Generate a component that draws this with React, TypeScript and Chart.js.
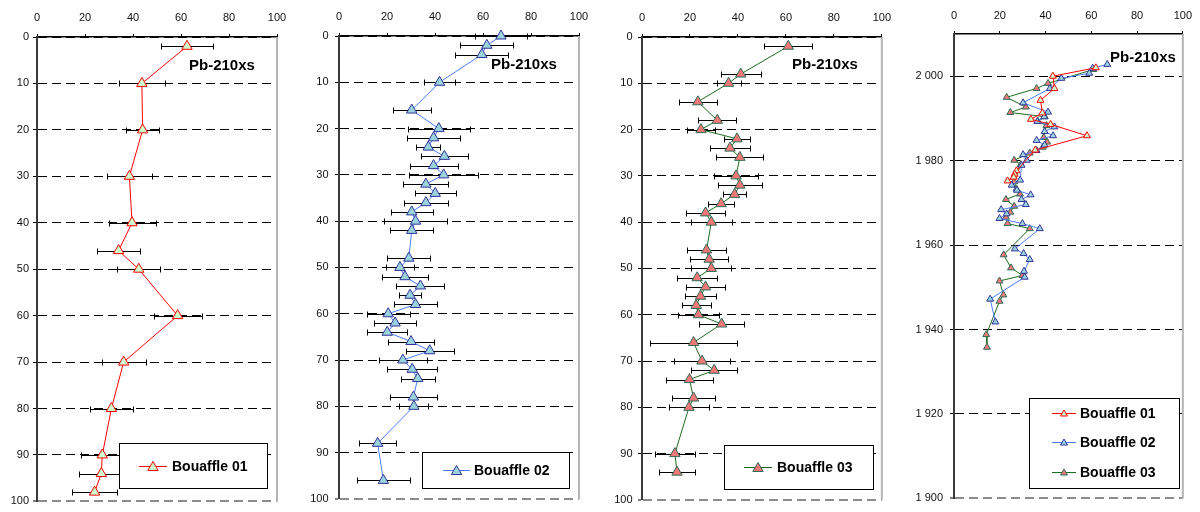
import React, { useEffect, useRef } from 'react';
import { Chart, registerables } from 'chart.js';

Chart.register(...registerables);

const FONT = '"Liberation Sans", Arial, Helvetica, sans-serif';
Chart.defaults.font.family = FONT;

// ---------- tick labels ----------
const activityTicks = [0, 20, 40, 60, 80, 100];
const depthTicks = [0, 10, 20, 30, 40, 50, 60, 70, 80, 90, 100];
const yearTicks = [1900, 1920, 1940, 1960, 1980, 2000];

// ---------- Bouaffle 01 (depth, Pb-210xs, error) ----------
const depth01 = [2, 10, 20, 30, 40, 46, 50, 60, 70, 80, 90, 94, 98];
const pb01 = [62.5, 43.7, 44, 38.5, 39.6, 34, 42.4, 58.6, 36.1, 31, 27.2, 26.8, 24];
const err01 = [11, 9.5, 7, 9.3, 9.8, 9, 9, 10, 9.2, 9, 9, 9.5, 9.3];

// ---------- Bouaffle 02 ----------
const depth02 = [0, 2, 4, 10, 16, 20, 22, 24, 26, 28, 30, 32, 34, 36, 38, 40, 42, 48, 50, 52, 54, 56, 58, 60, 62, 64, 66, 68, 70, 72, 74, 78, 80, 88, 96];
const pb02 = [67.5, 61.6, 59.5, 41.9, 30.3, 41.6, 39.4, 37.2, 43.9, 39.4, 43.6, 36.2, 40.1, 36.2, 30.3, 31.9, 30.3, 29.1, 25.4, 27.5, 33.9, 29.6, 31.9, 20.5, 23.4, 20.1, 30, 37.8, 26.6, 30.5, 32.8, 31, 31.2, 16.1, 18.5];
const err02 = [11, 11, 11, 6.5, 8, 13, 11, 5, 9.7, 10, 14.5, 9.4, 8.6, 9.3, 8.7, 13, 9, 9, 6, 9.5, 10, 4.5, 9, 9, 8.7, 8.4, 9.6, 10, 10, 10.4, 7, 9.8, 6, 7.8, 11];

// ---------- Bouaffle 03 ----------
const depth03 = [2, 8, 10, 14, 18, 20, 22, 24, 26, 30, 32, 34, 36, 38, 40, 46, 48, 50, 52, 54, 56, 58, 60, 62, 66, 70, 72, 74, 78, 80, 90, 94];
const pb03 = [61, 41.2, 36.1, 23.3, 31.4, 24.6, 39.6, 36.7, 40.8, 39.2, 40.8, 38.6, 33, 26.5, 28.9, 26.9, 28, 28.9, 23, 26.5, 24.4, 22.6, 23.5, 33.2, 21.5, 25, 30.1, 19.8, 21.5, 19.6, 13.7, 14.6];
const err03 = [10, 8.3, 5, 8, 8, 6, 5.6, 8.5, 9.8, 9, 9.2, 4.8, 5.3, 8.3, 8.5, 8.2, 8, 8.3, 8.2, 8, 6.6, 6, 8.5, 9.5, 18, 11.5, 9.5, 9.6, 9, 8.5, 8.4, 7.5];

// ---------- dated profiles (year, Pb-210xs) ----------
const year01d = [2002.0, 2000.0, 1997.1, 1994.3, 1991.3, 1989.8, 1988.6, 1985.9, 1982.5, 1977.6, 1976.8, 1976.1, 1975.2];
const pb01d = [62, 43.2, 43.9, 37.8, 38.6, 33.6, 42.2, 58.1, 35.5, 27.3, 26.5, 26.1, 23.4];

const year02d = [2002.8, 2001.9, 2000.7, 1999.5, 1997.1, 1993.7, 1991.5, 1990.4, 1989.3, 1988.0, 1986.9, 1985.9, 1984.8, 1983.7, 1982.4, 1981.4, 1980.1, 1978.9, 1975.4, 1974.2, 1973.0, 1971.9, 1970.8, 1969.6, 1968.4, 1967.4, 1966.3, 1965.1, 1963.9, 1959.1, 1958.0, 1956.6, 1953.8, 1952.4, 1947.2, 1941.8];
const pb02d = [67, 60.6, 59.1, 46.9, 41.9, 30.2, 41.1, 39.4, 36.4, 43.9, 39.6, 43.3, 36.1, 39.6, 36.1, 30.2, 31.8, 29.5, 28.9, 25.2, 27.5, 33.5, 29.5, 31.4, 20.6, 23, 19.9, 29.9, 37.5, 26.6, 30.4, 33.1, 30.6, 30.9, 15.8, 18.1];

const year03d = [2001.6, 1998.3, 1997.1, 1995.0, 1992.7, 1991.4, 1990.4, 1989.3, 1988.3, 1985.5, 1984.4, 1983.2, 1981.8, 1980.1, 1979.1, 1975.0, 1973.3, 1972.1, 1970.8, 1969.2, 1967.8, 1966.6, 1965.1, 1963.9, 1957.7, 1954.6, 1952.8, 1951.5, 1948.2, 1946.7, 1938.8, 1935.8];
const pb03d = [60.9, 41.1, 36.1, 23, 31.4, 24.6, 39.7, 36.7, 40.4, 39.2, 40.7, 38.8, 33.1, 26.3, 29.2, 26.3, 27.3, 28.8, 22.7, 26.3, 24.6, 22.7, 23.4, 33.1, 21.7, 24.9, 29.9, 19.9, 21.6, 19.9, 14.1, 14.4];

const seriesNames = ['Bouaffle 01', 'Bouaffle 02', 'Bouaffle 03'];
const titleText = 'Pb-210xs';

// ---------- styles ----------
const STYLE = [
  { line: '#ff0000', fill: '#ccffcc', border: '#ff0000' },
  { line: '#4a7dff', fill: '#99d3dc', border: '#333399' },
  { line: '#1e6b1e', fill: '#f27777', border: '#2f6b5a' },
];

function pts(xs: number[], ys: number[]) {
  return ys.map((y, i) => ({ x: xs[i], y }));
}

function triangle(ctx: CanvasRenderingContext2D, x: number, y: number, r: number) {
  let a = 0;
  ctx.beginPath();
  ctx.moveTo(x + Math.sin(a) * r, y - Math.cos(a) * r);
  a += (2 * Math.PI) / 3;
  ctx.lineTo(x + Math.sin(a) * r, y - Math.cos(a) * r);
  a += (2 * Math.PI) / 3;
  ctx.lineTo(x + Math.sin(a) * r, y - Math.cos(a) * r);
  ctx.closePath();
}

type LegendSpec = {
  box: [number, number, number, number];
  lineX: [number, number];
  textX: number;
  rows: number[];
  idx: number[];
  r: number;
};

type PanelSpec = {
  left: number;
  width: number;
  plotLeft: number;
  plotTop: number;
  padRight: number;
  padBottom: number;
  yMin: number;
  yMax: number;
  yTicks: number[];
  reverse: boolean;
  yPad: number;
  xPad: number;
  bottomValue: number;
  datasets: any[];
  legend: LegendSpec;
  title: [number, number];
  yFormat: (v: number) => string;
};

function ds(idx: number, data: { x: number; y: number }[], r: number, errs?: number[]) {
  const s = STYLE[idx];
  return {
    label: seriesNames[idx],
    data,
    showLine: true,
    borderColor: s.line,
    borderWidth: 1,
    tension: 0,
    pointStyle: 'triangle',
    pointRadius: r,
    pointHoverRadius: r,
    pointBackgroundColor: s.fill,
    pointBorderColor: s.border,
    pointBorderWidth: 1,
    clip: false,
    errorBars: errs,
  };
}

const plainFormat = (v: number) => String(v);
const yearFormat = (v: number) => String(v).replace(/\B(?=(\d{3})+(?!\d))/g, ' ');

const PANELS: PanelSpec[] = [
  {
    left: 0, width: 300, plotLeft: 37, plotTop: 37, padRight: 23, padBottom: 6,
    yMin: 0, yMax: 100, yTicks: depthTicks, reverse: true, yPad: 4, xPad: 9, bottomValue: 100,
    datasets: [ds(0, pts(pb01, depth01), 6, err01)],
    legend: { box: [119, 443, 267, 488], lineX: [139, 167], textX: 172, rows: [466], idx: [0], r: 6 },
    title: [189, 66], yFormat: plainFormat,
  },
  {
    left: 300, width: 300, plotLeft: 39, plotTop: 36, padRight: 21, padBottom: 6,
    yMin: 0, yMax: 100, yTicks: depthTicks, reverse: true, yPad: 6.5, xPad: 9, bottomValue: 100,
    datasets: [ds(1, pts(pb02, depth02), 6, err02)],
    legend: { box: [122, 452, 269, 488], lineX: [143, 170], textX: 174, rows: [470], idx: [1], r: 6 },
    title: [191, 65], yFormat: plainFormat,
  },
  {
    left: 600, width: 300, plotLeft: 42, plotTop: 37, padRight: 18, padBottom: 6,
    yMin: 0, yMax: 100, yTicks: depthTicks, reverse: true, yPad: 5.5, xPad: 9, bottomValue: 100,
    datasets: [ds(2, pts(pb03, depth03), 6, err03)],
    legend: { box: [124, 445, 273, 489], lineX: [144, 172], textX: 177, rows: [467], idx: [2], r: 6 },
    title: [192, 65], yFormat: plainFormat,
  },
  {
    left: 900, width: 300, plotLeft: 54, plotTop: 34, padRight: 14, padBottom: 6,
    yMin: 1900, yMax: 2010, yTicks: yearTicks, reverse: false, yPad: 7, xPad: 8, bottomValue: 1900,
    datasets: [
      ds(0, pts(pb01d, year01d), 4),
      ds(1, pts(pb02d, year02d), 4),
      ds(2, pts(pb03d, year03d), 4),
    ],
    legend: { box: [129, 398, 279, 488], lineX: [152, 176], textX: 180, rows: [413, 442, 472], idx: [0, 1, 2], r: 4 },
    title: [210, 58], yFormat: yearFormat,
  },
];

const errorBarPlugin = {
  id: 'errorBars',
  beforeDatasetsDraw(chart: any) {
    const { ctx } = chart;
    const xs = chart.scales.x;
    const ys = chart.scales.y;
    chart.data.datasets.forEach((d: any) => {
      if (!d.errorBars) return;
      ctx.save();
      ctx.strokeStyle = '#000';
      ctx.lineWidth = 1;
      d.data.forEach((p: any, i: number) => {
        const e = d.errorBars[i];
        const py = Math.round(ys.getPixelForValue(p.y)) + 0.5;
        const x1 = Math.round(xs.getPixelForValue(p.x - e)) + 0.5;
        const x2 = Math.round(xs.getPixelForValue(p.x + e)) + 0.5;
        ctx.beginPath();
        ctx.moveTo(x1, py);
        ctx.lineTo(x2, py);
        ctx.moveTo(x1, py - 3);
        ctx.lineTo(x1, py + 3);
        ctx.moveTo(x2, py - 3);
        ctx.lineTo(x2, py + 3);
        ctx.stroke();
      });
      ctx.restore();
    });
  },
};

function makeDecorPlugin(spec: PanelSpec) {
  return {
    id: 'panelDecor',
    afterDraw(chart: any) {
      const { ctx, chartArea } = chart;
      ctx.save();
      // right border of plot area
      ctx.strokeStyle = '#b4b4b4';
      ctx.lineWidth = 2;
      ctx.beginPath();
      ctx.moveTo(chartArea.right, chartArea.top);
      ctx.lineTo(chartArea.right, chartArea.bottom);
      ctx.stroke();

      // title
      ctx.fillStyle = '#000';
      ctx.font = `bold 15px ${FONT}`;
      ctx.textAlign = 'left';
      ctx.textBaseline = 'middle';
      ctx.fillText(titleText, spec.title[0], spec.title[1]);

      // legend
      const L = spec.legend;
      const [bx1, by1, bx2, by2] = L.box;
      ctx.fillStyle = '#ffffff';
      ctx.fillRect(bx1, by1, bx2 - bx1, by2 - by1);
      ctx.strokeStyle = '#000';
      ctx.lineWidth = 1;
      ctx.strokeRect(bx1 + 0.5, by1 + 0.5, bx2 - bx1, by2 - by1);
      L.rows.forEach((ry, k) => {
        const s = STYLE[L.idx[k]];
        ctx.strokeStyle = s.line;
        ctx.lineWidth = 1;
        ctx.beginPath();
        ctx.moveTo(L.lineX[0], ry + 0.5);
        ctx.lineTo(L.lineX[1], ry + 0.5);
        ctx.stroke();
        const mx = (L.lineX[0] + L.lineX[1]) / 2;
        triangle(ctx, mx, ry + L.r * 0.25, L.r);
        ctx.fillStyle = s.fill;
        ctx.fill();
        ctx.strokeStyle = s.border;
        ctx.stroke();
        ctx.fillStyle = '#000';
        ctx.font = `bold 14px ${FONT}`;
        ctx.textBaseline = 'middle';
        ctx.fillText(seriesNames[L.idx[k]], L.textX, ry + 1);
      });
      ctx.restore();
    },
  };
}

function Panel({ spec }: { spec: PanelSpec }) {
  const ref = useRef<HTMLCanvasElement | null>(null);
  useEffect(() => {
    if (!ref.current) return;
    const chart = new Chart(ref.current, {
      type: 'scatter',
      data: { datasets: spec.datasets },
      options: {
        responsive: false,
        animation: false,
        events: [],
        layout: { padding: { left: 0, top: 0, right: spec.padRight, bottom: spec.padBottom } },
        plugins: { legend: { display: false }, tooltip: { enabled: false } },
        scales: {
          x: {
            type: 'linear',
            position: 'top',
            min: 0,
            max: 100,
            afterBuildTicks: (s: any) => {
              s.ticks = activityTicks.map((v) => ({ value: v }));
            },
            afterFit: (s: any) => {
              s.height = spec.plotTop;
            },
            ticks: { color: '#111', font: { size: 11, family: FONT }, padding: spec.xPad, maxRotation: 0 },
            grid: { drawOnChartArea: false, drawTicks: true, tickLength: 3, tickColor: '#000', color: '#000' },
            border: { display: true, color: '#000', width: 1.5 },
          },
          y: {
            type: 'linear',
            reverse: spec.reverse,
            min: spec.yMin,
            max: spec.yMax,
            afterBuildTicks: (s: any) => {
              s.ticks = spec.yTicks.map((v) => ({ value: v }));
            },
            afterFit: (s: any) => {
              s.width = spec.plotLeft;
            },
            ticks: {
              color: '#111',
              font: { size: 11, family: FONT },
              padding: spec.yPad,
              callback: (v: any) => spec.yFormat(Number(v)),
            },
            grid: {
              color: (c: any) => (c.tick && c.tick.value === spec.bottomValue ? '#8c8c8c' : '#000'),
              lineWidth: (c: any) => (c.tick && c.tick.value === spec.bottomValue ? 2 : 1),
              tickColor: '#000',
              tickWidth: 1,
              tickLength: 4,
              tickBorderDash: [],
            },
            border: { display: true, color: '#3a3a3a', width: 2, dash: [9, 5] },
          },
        },
      } as any,
      plugins: [errorBarPlugin as any, makeDecorPlugin(spec) as any],
    });
    return () => chart.destroy();
  }, [spec]);
  return (
    <div style={{ position: 'absolute', left: spec.left, top: 0, width: spec.width, height: 512 }}>
      <canvas ref={ref} width={spec.width} height={512} style={{ display: 'block' }} />
    </div>
  );
}

export default function App() {
  return (
    <div style={{ position: 'absolute', left: 0, top: 0, width: 1200, height: 512, background: '#fff', overflow: 'hidden' }}>
      {PANELS.map((p, i) => (
        <Panel key={i} spec={p} />
      ))}
    </div>
  );
}
